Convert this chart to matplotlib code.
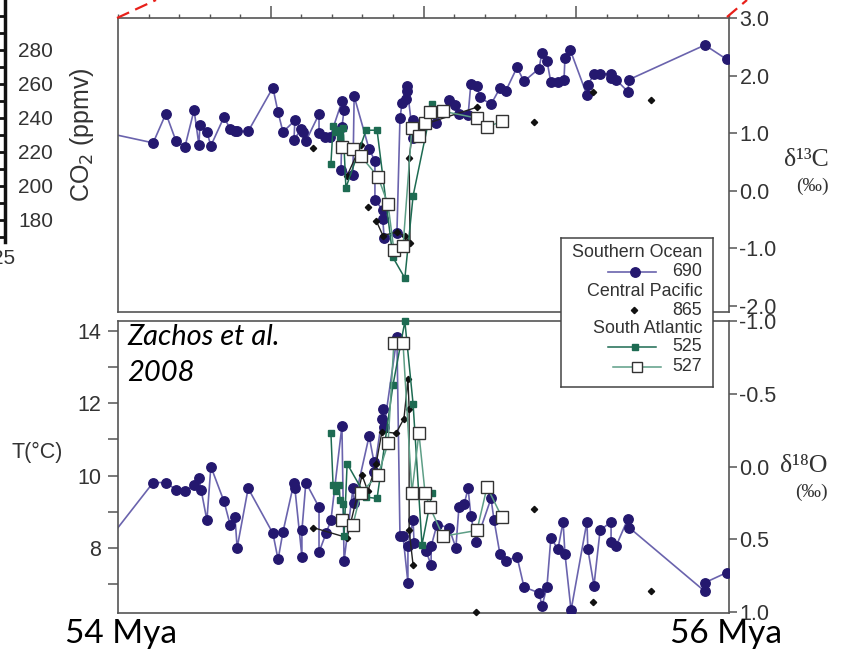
import numpy as np
import matplotlib
matplotlib.use('Agg')
import matplotlib.pyplot as plt
from matplotlib.lines import Line2D
from matplotlib.ticker import MultipleLocator, FixedLocator, FormatStrFormatter

plt.rcParams['font.family'] = ['Liberation Sans', 'DejaVu Sans']
plt.rcParams['axes.unicode_minus'] = False

nan = np.nan

# ---- data (age in Mya, isotopes in per mil) ----
# Southern Ocean, site 690 - d13C
so690_c_age = [53.941, 54.115, 54.157, 54.190, 54.219, 54.249, 54.265, 54.268, 54.291, 54.304,
               54.347, 54.367, 54.383, 54.390, 54.426, 54.507, 54.524, 54.540, 54.579, 54.576,
               54.599, 54.606, 54.615, 54.658, 54.658, 54.678, 54.694, 54.733, 54.740, 54.733,
               54.730, 54.769, 54.773, 54.822, 54.841, 54.841, 54.867, 54.867, 54.871, 54.913,
               54.923, 54.930, 54.943, 54.946, 54.946, 54.966, 54.966, 55.041, 55.083, 55.103,
               55.116, 55.146, 55.155, 55.175, 55.185, 55.221, 55.250, 55.270, 55.306, 55.329,
               55.378, 55.388, 55.404, 55.417, 55.440, 55.460, 55.463, 55.480, 55.535, 55.538,
               55.558, 55.578, 55.614, 55.614, 55.630, 55.669, 55.673, 55.921, 55.993]
so690_c = [1.03, 0.83, 1.34, 0.86, 0.76, 1.40, 0.79, 1.14, 1.02, 0.78,
           1.28, 1.07, 1.03, 1.03, 1.03, 1.79, 1.36, 1.02, 1.22, 0.88,
           1.07, 1.02, 0.86, 1.33, 1.00, 0.93, 0.93, 1.55, 1.41, 1.10,
           0.36, 0.28, 1.64, 0.72, 0.52, -0.16, -0.34, -0.50, -0.83, -0.74,
           1.26, 1.53, 1.60, 1.74, 1.81, 0.91, 1.22, 1.17, 1.57, 1.48,
           1.33, 1.31, 1.86, 1.81, 1.62, 1.50, 1.78, 1.74, 2.14, 1.90,
           2.12, 2.40, 2.26, 1.88, 1.88, 1.93, 2.31, 2.45, 1.66, 1.83,
           2.03, 2.03, 2.03, 1.95, 1.93, 1.72, 1.93, 2.53, 2.28]

# Southern Ocean, site 690 - d18O
so690_o_age = [53.941, 54.115, 54.157, 54.190, 54.219, 54.249, 54.265, 54.272, 54.291, 54.304,
               54.347, 54.367, 54.383, 54.390, 54.426, 54.507, 54.524, 54.540, 54.576, 54.579,
               54.602, 54.602, 54.615, 54.658, 54.658, 54.681, 54.697, 54.733, 54.740, 54.769,
               54.773, 54.822, 54.838, 54.838, 54.864, 54.867, 54.871, 54.913, 54.923, 54.933,
               54.949, 54.949, 54.966, 54.969, 55.008, 55.025, 55.025, 55.044, 55.083, 55.106,
               55.116, 55.133, 55.146, 55.155, 55.172, 55.221, 55.231, 55.250, 55.270, 55.306,
               55.329, 55.378, 55.388, 55.404, 55.417, 55.440, 55.457, 55.463, 55.483, 55.535,
               55.538, 55.558, 55.578, 55.614, 55.614, 55.630, 55.669, 55.673, 55.921, 55.921,
               55.993]
so690_o = [0.58, 0.11, 0.11, 0.16, 0.17, 0.13, 0.08, 0.16, 0.37, 0.00,
           0.24, 0.40, 0.35, 0.56, 0.15, 0.46, 0.64, 0.45, 0.11, 0.15,
           0.62, 0.44, 0.11, 0.28, 0.59, 0.46, 0.37, -0.28, 0.65, 0.15,
           0.25, -0.21, -0.03, 0.04, -0.33, -0.40, -0.27, -0.89, 0.48, 0.48,
           0.80, 0.55, 0.37, 0.53, 0.58, 0.68, 0.55, 0.40, 0.42, 0.56,
           0.28, 0.26, 0.15, 0.34, 0.52, 0.22, 0.37, 0.60, 0.65, 0.62,
           0.83, 0.87, 0.96, 0.83, 0.49, 0.57, 0.38, 0.60, 0.99, 0.38,
           0.57, 0.82, 0.44, 0.38, 0.52, 0.55, 0.36, 0.42, 0.86, 0.80,
           0.73]

# Central Pacific, site 865 (nan = gap in the line)
cp865_c_age = [54.638, nan, 54.750, 54.795, nan, 54.818, nan, 54.845, 54.867, 54.913, 54.939,
               54.956, 54.953, 54.966, 55.175, nan, 55.362, nan, 55.555, nan, 55.745]
cp865_c = [0.74, nan, 0.26, 0.79, nan, -0.29, nan, -0.52, -0.78, -0.72, -0.79,
           -0.91, 0.57, 1.09, 1.45, nan, 1.19, nan, 1.71, nan, 1.57]
cp865_o_age = [54.638, 54.750, 54.799, 54.818, 54.845, 54.864, 54.910, 54.936, 54.949, 54.953,
               54.953, 54.966, nan, 55.172, nan, 55.362, nan, 55.555, nan, 55.745]
cp865_o = [0.42, 0.49, 0.06, 0.17, -0.02, -0.24, -0.23, -0.33, -0.60, -0.40,
           0.44, 0.68, nan, 1.00, nan, 0.29, nan, 0.93, nan, 0.86]

# South Atlantic, site 525
sa525_c_age = [54.697, 54.704, 54.714, 54.723, 54.727, 54.737, 54.746, 54.812, 54.848, 54.900,
               54.939, 54.966, 55.028]
sa525_c = [0.47, 1.12, 1.02, 1.05, 0.93, 1.09, 0.05, 1.05, 1.05, -1.16, -1.52, -0.09, 1.50]
sa525_o_age = [54.697, 54.704, 54.714, 54.723, 54.727, 54.737, 54.740, 54.750, 54.812, 54.848,
               54.900, 54.939, 54.966, 54.995, 55.028]
sa525_o = [-0.23, 0.13, 0.17, 0.13, 0.23, 0.26, 0.48, -0.02, 0.21, 0.22,
           -0.56, -1.00, -0.43, 0.54, 0.18]

# South Atlantic, site 527
sa527_age = [54.733, 54.769, 54.795, 54.851, 54.884, 54.903, 54.933, 54.962, 54.985, 55.005,
             55.021, 55.064, 55.175, 55.208, 55.257]
sa527_c = [0.76, 0.72, 0.60, 0.24, -0.24, -1.03, -0.97, 1.09, 0.95, 1.17, 1.36, 1.38, 1.26, 1.10, 1.21]
sa527_o = [0.37, 0.40, 0.18, 0.06, -0.16, -0.85, -0.85, 0.18, -0.23, 0.18, 0.28, 0.48, 0.44, 0.14, 0.35]

# axes labels / ticks
d13c_ticks = [3.0, 2.0, 1.0, 0.0, -1.0, -2.0]
d18o_ticks = [-1.0, -0.5, 0.0, 0.5, 1.0]
temp_major = [8, 10, 12, 14]
temp_minor = [7, 9, 11, 13]
co2_labels = [180, 200, 220, 240, 260, 280]
co2_minor = [170, 190, 210, 230, 250, 270, 290, 300]
legend_headers = ['Southern Ocean', 'Central Pacific', 'South Atlantic']
legend_sites = ['690', '865', '525', '527']

# colours
navy = '#24186f'
navy_line = '#6a63ad'
green = '#1d6b52'
green_line = '#5d9e86'
spine_col = '#555555'
txt = '#333333'

W, H = 842, 653
fig = plt.figure(figsize=(W / 100, H / 100), dpi=100)

def style_axes(ax):
    ax.set_facecolor('none')
    for s in ax.spines.values():
        s.set_color(spine_col)
        s.set_linewidth(1.2)

def draw_series(ax, a690, v690, a865, v865, a525, v525, a527, v527):
    ax.plot(a690, v690, '-', color=navy_line, lw=1.2, zorder=2)
    ax.plot(a690, v690, 'o', color=navy, ms=6.8, mec=navy, zorder=3)
    ax.plot(a865, v865, '-', color='#222222', lw=1.0, marker='D', ms=3.2,
            mfc='#111111', mec='#111111', zorder=4, clip_on=False)
    ax.plot(a525, v525, '-', color=green, lw=1.1, marker='s', ms=5,
            mfc=green, mec=green, zorder=5, clip_on=False)
    ax.plot(a527, v527, '-', color=green_line, lw=1.1, marker='s', ms=8,
            mfc='white', mec='#333333', mew=1.0, zorder=6, clip_on=False)

ytick_kw = dict(direction='out', length=6, width=1.1, color=spine_col,
                pad=1.5, labelsize=15.5, labelcolor=txt)

# ---- top panel: d13C ----
ax1 = fig.add_axes([118 / W, 1 - 311.5 / H, 611 / W, 293.5 / H])
style_axes(ax1)
draw_series(ax1, so690_c_age, so690_c, cp865_c_age, cp865_c,
            sa525_c_age, sa525_c, sa527_age, sa527_c)
ax1.set_xlim(54, 56)
ax1.set_ylim(-2.1, 3.0)
ax1.xaxis.set_ticks_position('top')
ax1.xaxis.set_major_locator(FixedLocator([54.5, 55.0, 55.5]))
ax1.xaxis.set_minor_locator(MultipleLocator(0.1))
ax1.tick_params(axis='x', which='major', direction='out', length=8.5, width=1.1,
                color=spine_col, labeltop=False, labelbottom=False)
ax1.tick_params(axis='x', which='minor', direction='out', length=3, width=1.0,
                color=spine_col)
ax1.yaxis.tick_right()
ax1.set_yticks(d13c_ticks)
ax1.yaxis.set_major_formatter(FormatStrFormatter('%.1f'))
ax1.tick_params(axis='y', **ytick_kw)

# ---- bottom panel: d18O with temperature ----
ax2 = fig.add_axes([118 / W, 1 - 613.3 / H, 611 / W, 292.6 / H])
style_axes(ax2)
axT = ax2.twinx()
draw_series(ax2, so690_o_age, so690_o, cp865_o_age, cp865_o,
            sa525_o_age, sa525_o, sa527_age, sa527_o)
ax2.set_xlim(54, 56)
ax2.set_ylim(1.011, -1.005)
ax2.set_xticks([])
ax2.yaxis.tick_right()
ax2.set_yticks(d18o_ticks)
ax2.yaxis.set_major_formatter(FormatStrFormatter('%.1f'))
ax2.tick_params(axis='y', **ytick_kw)

axT.set_ylim(6.2, 14.28)
axT.yaxis.tick_left()
axT.set_yticks(temp_major)
axT.set_yticks(temp_minor, minor=True)
axT.tick_params(axis='y', which='both', direction='out', length=7, width=1.1,
                color=spine_col, pad=5, labelsize=15.5, labelcolor=txt)
for s in axT.spines.values():
    s.set_visible(False)

# ---- texts ----
fig.text(12 / W, 1 - 452 / H, 'T(°C)', fontsize=15.5, color=txt, va='center', ha='left')
fig.text(127 / W, 1 - 337 / H, 'Zachos et al.', fontsize=21, fontstyle='italic',
         family=['Lato', 'DejaVu Sans'], va='center', ha='left')
fig.text(127 / W, 1 - 373 / H, '2008', fontsize=21, fontstyle='italic',
         family=['Lato', 'DejaVu Sans'], va='center', ha='left')
fig.text(121 / W, 1 - 634 / H, '54 Mya', fontsize=24, family=['Lato', 'DejaVu Sans'],
         va='center', ha='center')
fig.text(726 / W, 1 - 634 / H, '56 Mya', fontsize=24, family=['Lato', 'DejaVu Sans'],
         va='center', ha='center')

serif = ['Liberation Serif', 'DejaVu Serif']
fig.text(806 / W, 1 - 160 / H, 'δ¹³C', fontsize=18.5, family=serif, color=txt,
         ha='center', va='center')
fig.text(812 / W, 1 - 186 / H, '(‰)', fontsize=14, family=serif, color=txt,
         ha='center', va='center')
fig.text(804 / W, 1 - 466 / H, 'δ¹⁸O', fontsize=18.5, family=serif, color=txt,
         ha='center', va='center')
fig.text(811 / W, 1 - 492 / H, '(‰)', fontsize=14, family=serif, color=txt,
         ha='center', va='center')

# ---- legend box ----
lg = fig.add_axes([561 / W, 1 - 387 / H, 152 / W, 149 / H])
lg.set_xlim(0, 1)
lg.set_ylim(0, 1)
lg.set_xticks([])
lg.set_yticks([])
for s in lg.spines.values():
    s.set_color('#444444')
    s.set_linewidth(1.1)
lg.set_zorder(10)
kw = dict(fontsize=12.9, color=txt, ha='right', va='center')
lg.text(0.93, 0.905, legend_headers[0], **kw)
lg.text(0.93, 0.774, legend_sites[0], **kw)
lg.text(0.93, 0.640, legend_headers[1], **kw)
lg.text(0.93, 0.515, legend_sites[1], **kw)
lg.text(0.93, 0.390, legend_headers[2], **kw)
lg.text(0.93, 0.270, legend_sites[2], **kw)
lg.text(0.93, 0.136, legend_sites[3], **kw)
lg.add_line(Line2D([0.31, 0.625], [0.774, 0.774], color=navy_line, lw=1.2))
lg.add_line(Line2D([0.487], [0.774], marker='o', ms=6.8, color=navy))
lg.add_line(Line2D([0.48], [0.515], marker='D', ms=3.2, color='#111111'))
lg.add_line(Line2D([0.31, 0.625], [0.270, 0.270], color=green, lw=1.1))
lg.add_line(Line2D([0.487], [0.270], marker='s', ms=5, color=green))
lg.add_line(Line2D([0.34, 0.66], [0.136, 0.136], color=green_line, lw=1.1))
lg.add_line(Line2D([0.50], [0.136], marker='s', ms=7, mfc='white', mec='#333333'))

# ---- cropped CO2 axis from the neighbouring figure ----
axc = fig.add_axes([-0.2, 1 - 242 / H, 0.2 + 5 / W, 242 / H])
axc.set_ylim(167.0, 309.4)
axc.set_xticks([])
for side in ['left', 'top', 'bottom']:
    axc.spines[side].set_visible(False)
axc.spines['right'].set_linewidth(2.5)
axc.spines['right'].set_color('#111111')
axc.set_facecolor('none')
axc.yaxis.tick_right()
axc.set_yticks(co2_labels)
axc.set_yticks(co2_minor, minor=True)
axc.tick_params(axis='y', which='both', direction='in', length=5, width=2,
                color='#111111', pad=9.5, labelsize=15, labelcolor=txt)
fig.text(82 / W, 1 - 135 / H, 'CO$_2$ (ppmv)', rotation=90, fontsize=18, color=txt,
         ha='center', va='center')
fig.text(15 / W, 1 - 258 / H, '25', fontsize=15, color=txt, ha='right', va='center')

# red dashed zoom lines
fig.add_artist(Line2D([117 / W, 156 / W], [1 - 18 / H, 1.0], color='#e8201a', lw=1.6,
                      ls=(0, (6, 3))))
fig.add_artist(Line2D([727 / W, 747 / W], [1 - 17 / H, 1.0], color='#e8201a', lw=1.6,
                      ls=(0, (6, 3))))

plt.savefig('out.png', dpi=100)
